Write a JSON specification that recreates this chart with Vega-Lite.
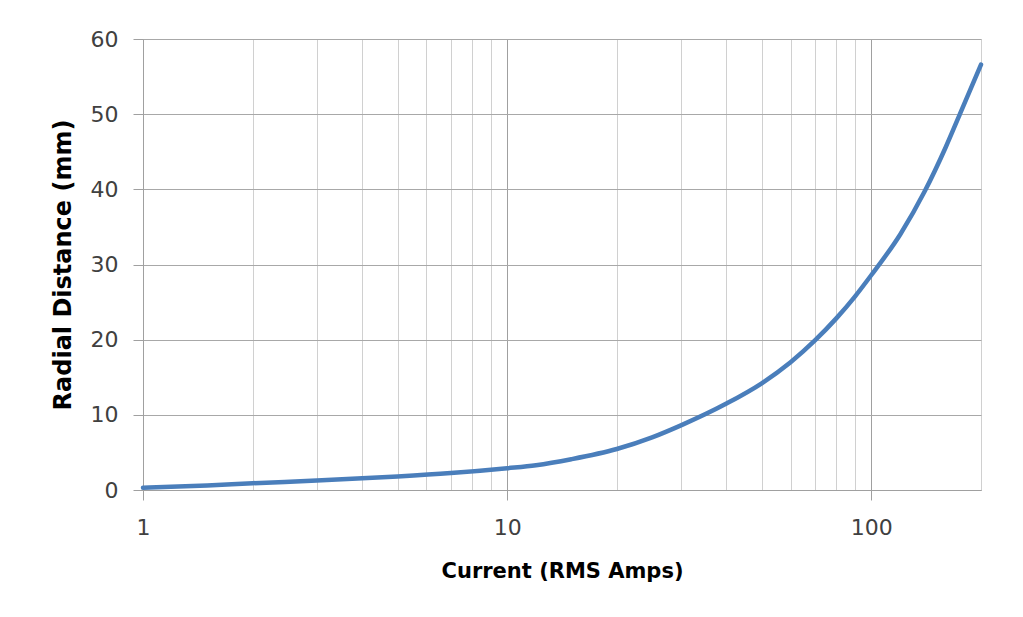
{
  "$schema": "https://vega.github.io/schema/vega-lite/v6.json",
  "width": 838,
  "height": 451,
  "autosize": {"type": "none"},
  "padding": {"left": 143, "top": 39, "right": 42, "bottom": 127},
  "background": "white",
  "config": {
    "view": {"stroke": "#d0d0d0", "strokeWidth": 1},
    "font": "DejaVu Sans"
  },
  "data": {
    "values": [
      {"current": 1, "distance": 0.3},
      {"current": 1.5, "distance": 0.6},
      {"current": 2, "distance": 0.9},
      {"current": 3, "distance": 1.25},
      {"current": 4, "distance": 1.55},
      {"current": 5, "distance": 1.8},
      {"current": 7, "distance": 2.25},
      {"current": 10, "distance": 2.9},
      {"current": 12, "distance": 3.3},
      {"current": 15, "distance": 4.1},
      {"current": 20, "distance": 5.45},
      {"current": 25, "distance": 7.0},
      {"current": 30, "distance": 8.6},
      {"current": 40, "distance": 11.5},
      {"current": 50, "distance": 14.2},
      {"current": 60, "distance": 17.0},
      {"current": 70, "distance": 19.9},
      {"current": 80, "distance": 22.8},
      {"current": 90, "distance": 25.7},
      {"current": 100, "distance": 28.6},
      {"current": 120, "distance": 34.0},
      {"current": 140, "distance": 39.7},
      {"current": 160, "distance": 45.6},
      {"current": 175, "distance": 50.0},
      {"current": 200, "distance": 56.6}
    ]
  },
  "mark": {"type": "line", "interpolate": "monotone", "color": "#4a7ebb", "strokeWidth": 4.5, "strokeCap": "round"},
  "encoding": {
    "x": {
      "field": "current",
      "type": "quantitative",
      "scale": {"type": "log", "domain": [1, 200], "nice": false},
      "axis": {
        "title": "Current (RMS Amps)",
        "titleFont": "DejaVu Sans",
        "titleFontSize": 21,
        "titleFontWeight": "bold",
        "titleColor": "#000000",
        "titlePadding": 22,
        "values": [1, 2, 3, 4, 5, 6, 7, 8, 9, 10, 20, 30, 40, 50, 60, 70, 80, 90, 100],
        "labelExpr": "datum.value == 1 || datum.value == 10 || datum.value == 100 ? datum.label : ''",
        "labelFont": "DejaVu Sans",
        "labelFontSize": 22,
        "labelColor": "#404040",
        "labelPadding": 17,
        "labelFlush": false,
        "labelOverlap": false,
        "domain": true,
        "domainColor": "#a0a0a0",
        "grid": true,
        "gridColor": {"condition": {"test": "datum.value == 1 || datum.value == 10 || datum.value == 100", "value": "#a0a0a0"}, "value": "#d0d0d0"},
        "gridWidth": 1,
        "ticks": true,
        "tickColor": "#a0a0a0",
        "tickSize": {"condition": {"test": "datum.value == 1 || datum.value == 10 || datum.value == 100", "value": 10}, "value": 0}
      }
    },
    "y": {
      "field": "distance",
      "type": "quantitative",
      "scale": {"domain": [0, 60], "nice": false},
      "axis": {
        "title": "Radial Distance (mm)",
        "titleFont": "DejaVu Sans",
        "titleFontSize": 24,
        "titleFontWeight": "bold",
        "titleColor": "#000000",
        "titlePadding": 15,
        "values": [0, 10, 20, 30, 40, 50, 60],
        "labelFont": "DejaVu Sans",
        "labelFontSize": 22,
        "labelColor": "#404040",
        "labelPadding": 15,
        "labelFlush": false,
        "domain": true,
        "domainColor": "#a0a0a0",
        "grid": true,
        "gridColor": "#a8a8a8",
        "tickColor": "#a0a0a0",
        "tickSize": 10
      }
    }
  }
}
